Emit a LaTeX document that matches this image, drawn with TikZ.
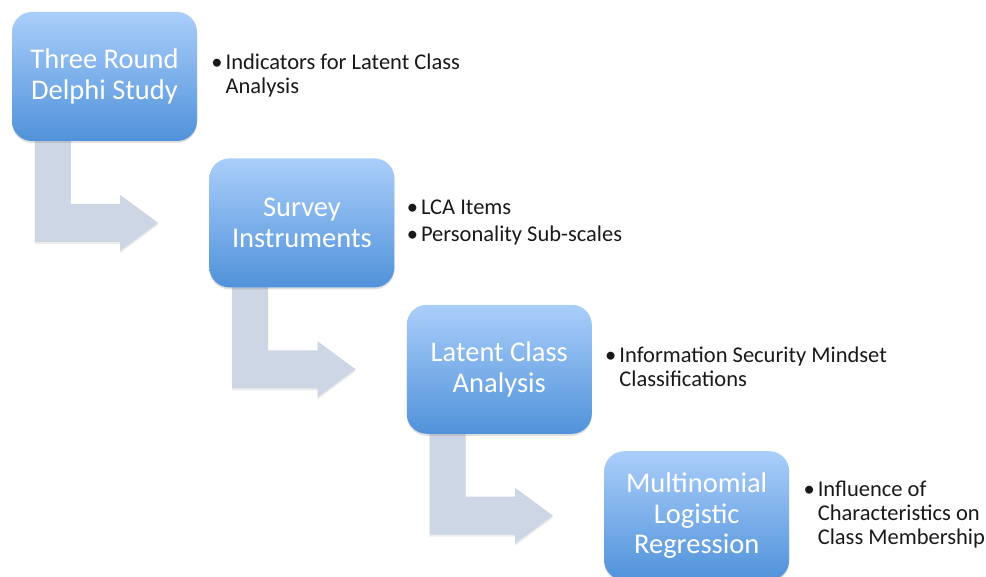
\documentclass[tikz,border=0pt]{standalone}
\usepackage{fontspec}
\setmainfont{Carlito}
\usepackage{tikz}
\usetikzlibrary{positioning,calc,shadows}
\pgfdeclarelayer{bg}
\pgfsetlayers{bg,main}
\definecolor{boxtop}{RGB}{170,206,250}
\definecolor{boxbot}{RGB}{80,146,218}
\definecolor{arrowgray}{RGB}{205,214,228}
\tikzset{
  stage/.style={rounded corners=20pt, minimum width=185pt, minimum height=129pt,
    top color=boxtop, bottom color=boxbot, text=white, align=center,
    font=\fontsize{28.5}{30.5}\selectfont,
    drop shadow={shadow xshift=0pt, shadow yshift=-2pt, opacity=.25}},
  notes/.style={inner sep=0pt, font=\fontsize{22.5}{24}\selectfont, text=black!90},
  bentarrow/.style={fill=arrowgray,
    drop shadow={shadow xshift=0pt, shadow yshift=-2pt, opacity=.15}}
}

\begin{document}
\begin{tikzpicture}[x = 1pt, y = -1pt]
\useasboundingbox (0,0) rectangle (986,577);

\node[stage] (box1) at (104.5,76.5) {Three Round\\Delphi Study};
\node[stage, below right = 17pt and 12pt of box1] (box2) {Survey\\Instruments};
\node[stage, below right = 17pt and 12pt of box2] (box3) {Latent Class\\Analysis};
\node[stage, below right = 17pt and 12pt of box3] (box4) {Multinomial\\Logistic\\Regression};

\node[notes, right = 14pt of box1] (notes1) {\begin{tabular}{@{}l@{\hspace{3pt}}l@{}}
\textbullet & Indicators for Latent Class\\
 & Analysis
\end{tabular}};
\node[notes, right = 12pt of box2] (notes2) {\begin{tabular}{@{}l@{\hspace{3pt}}l@{}}
\textbullet & LCA Items\\[3pt]
\textbullet & Personality Sub-scales
\end{tabular}};
\node[notes, right = 13pt of box3] (notes3) {\begin{tabular}{@{}l@{\hspace{3pt}}l@{}}
\textbullet & Information Security Mindset\\
 & Classifications
\end{tabular}};
\node[notes, right = 14pt of box4] (notes4) {\begin{tabular}{@{}l@{\hspace{3pt}}l@{}}
\textbullet & Influence of\\
 & Characteristics on\\
 & Class Membership
\end{tabular}};

% bent arrows behind the boxes
\begin{pgfonlayer}{bg}
\foreach \a/\b in {1/2,2/3,3/4}{
  \coordinate (l) at ($(box\a.south west)+(23,-10)$);
  \coordinate (r) at ($(l)+(36,0)$);
  \coordinate (tip) at ($(box\b.west)+(-51,0)$);
  \coordinate (hb) at ($(tip)+(-38,0)$);
  \fill[bentarrow] (l) -- (r) -- ($(r |- tip)+(0,-19)$) -- ($(hb)+(0,-19)$)
    -- ($(hb)+(0,-28)$) -- (tip) -- ($(hb)+(0,28)$) -- ($(hb)+(0,19)$)
    -- ($(l |- tip)+(0,19)$) -- cycle;
}
\end{pgfonlayer}

\end{tikzpicture}
\end{document}
